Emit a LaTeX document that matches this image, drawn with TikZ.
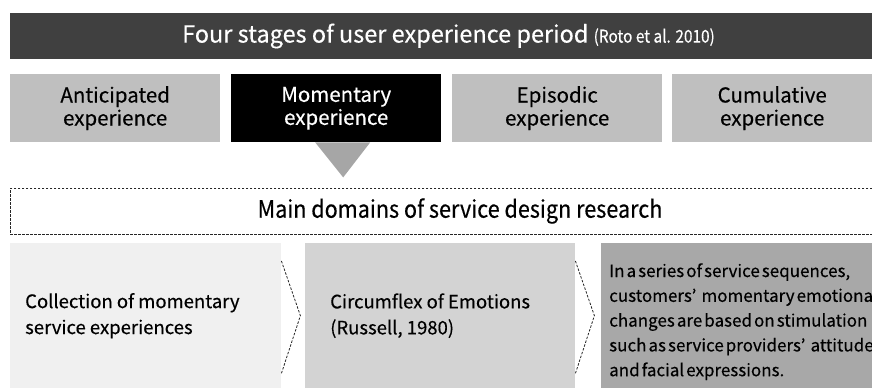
\documentclass[tikz,border=0pt]{standalone}
\usepackage{fontspec}
\setmainfont{Noto Sans CJK KR}[FakeBold=0.35]
\usetikzlibrary{positioning}
\definecolor{bardark}{HTML}{404040}
\definecolor{stagegray}{HTML}{BFBFBF}
\definecolor{pointgray}{HTML}{A6A6A6}
\definecolor{domainA}{HTML}{F0F0F0}
\definecolor{domainB}{HTML}{D3D3D3}
\definecolor{domainC}{HTML}{A8A8A8}
\newcommand{\tightwords}{\spaceskip=0.12em\relax}

\begin{document}
\begin{tikzpicture}[x=1pt,y=-1pt,
	stagebox/.style={fill=stagegray,minimum width=210pt,minimum height=68pt,anchor=north west,inner sep=0pt,align=center,font=\fontsize{20.5}{23}\selectfont},
	domainbox/.style={minimum height=145pt,anchor=north west,inner sep=0pt},
	domaintext/.style={align=left,inner sep=0pt,anchor=west,font=\fontsize{18.5}{26}\selectfont},
	chevron/.style={draw=black!85,line width=0.8pt,dash pattern=on 2.5pt off 1.5pt}]
	\useasboundingbox (0,0) rectangle (872,390);
	% title bar
	\node[fill=bardark,minimum width=862pt,minimum height=46pt,anchor=north west,inner sep=0pt] (bar) at (10,13) {};
	\node[text=white,font=\fontsize{23.5}{24}\selectfont] (title) at (448.5,36) {Four stages of user experience period \scalebox{0.88}[1]{\fontsize{17.5}{18}\selectfont(Roto et al. 2010)}};
	% four stages
	\node[stagebox] (anticipated) at (10,74) {Anticipated\\experience};
	\node[stagebox,fill=black,text=white] (momentary) at (231,74) {Momentary\\experience};
	\node[stagebox] (episodic) at (452,74) {Episodic\\experience};
	\node[stagebox,minimum width=200pt] (cumulative) at (672,74) {Cumulative\\experience};
	\fill[pointgray] ([xshift=-21pt]momentary.south) -- ([xshift=34pt]momentary.south) -- ([xshift=7pt,yshift=-35pt]momentary.south) -- cycle;
	% research domains
	\node[chevron,minimum width=880pt,minimum height=46pt,anchor=north west,inner sep=0pt] (domains) at (10,188) {};
	\node[font=\fontsize{24}{24}\selectfont,xscale=0.9] (domainstitle) at (460,211) {Main domains of service design research};
	\node[domainbox,fill=domainA,minimum width=271pt] (collection) at (10,243) {};
	\node[domainbox,fill=domainB,minimum width=270pt] (circumflex) at (305,243) {};
	\node[domainbox,fill=domainC,minimum width=271pt] (sequence) at (601,243) {};
	\node[domaintext,right=15pt of collection.west] (collectiontext) {Collection of momentary\\service experiences};
	\node[domaintext,right=25pt of circumflex.west] (circumflextext) {Circumflex of Emotions\\(Russell, 1980)};
	\node[domaintext,right=8pt of sequence.west,yshift=-6pt,font=\fontsize{17}{24.8}\selectfont] (sequencetext) {\tightwords In a series of service sequences,\\\tightwords customers’\hspace{0.3em}momentary emotional\\\tightwords changes are based on stimulation\\\tightwords such as service providers’\hspace{0.3em}attitudes\\\tightwords and facial expressions.};
	\draw[chevron] ([yshift=-18pt]collection.north east) -- ([xshift=19pt]collection.east) -- ([yshift=15pt]collection.south east);
	\draw[chevron] ([yshift=-18pt]circumflex.north east) -- ([xshift=19pt]circumflex.east) -- ([yshift=15pt]circumflex.south east);
\end{tikzpicture}
\end{document}
